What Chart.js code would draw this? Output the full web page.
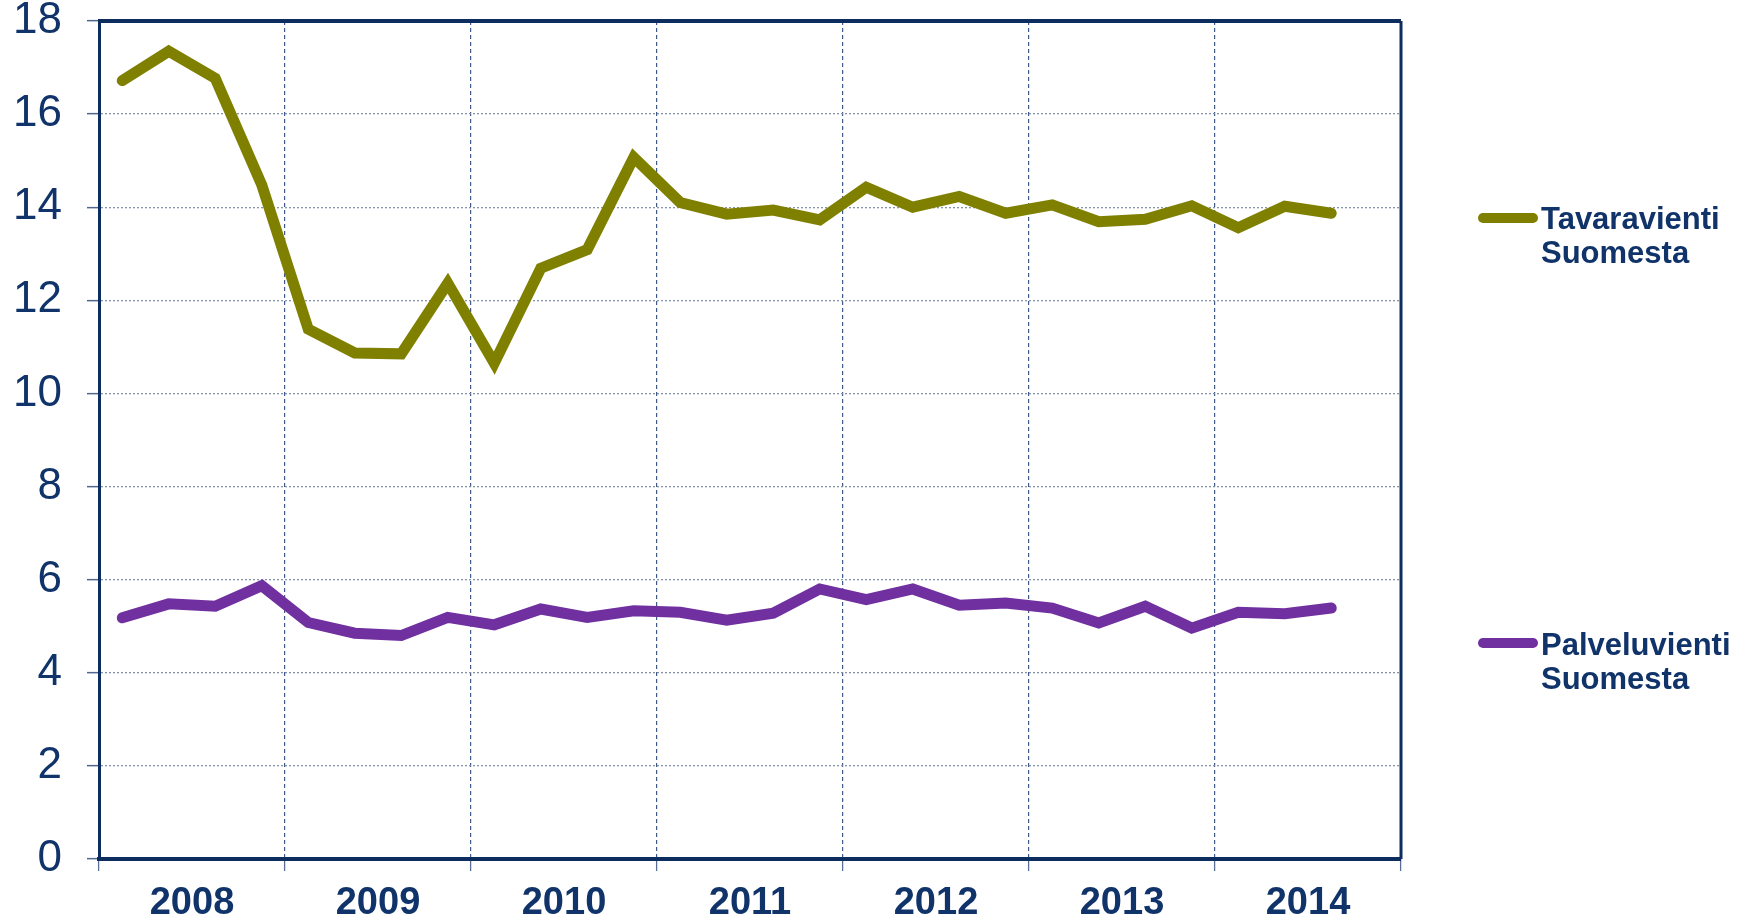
<!DOCTYPE html>
<html>
<head>
<meta charset="utf-8">
<script src="https://cdn.jsdelivr.net/npm/chart.js@4.4.1/dist/chart.umd.min.js"></script>
<style>
    html, body { margin: 0; padding: 0; background: #fff; }
    #wrap { width: 1750px; height: 920px; }
</style>
</head>
<body>
<div id="wrap"><canvas id="chart1"></canvas></div>
<script>
var years = ['2008', '2009', '2010', '2011', '2012', '2013', '2014'];
var quarters = [];
for (var y = 0; y < years.length; y++) {
    for (var q = 1; q <= 4; q++) {
        quarters.push(years[y] + ' Q' + q);
    }
}

// kvartaalit 2008 Q1 - 2014 Q3, 2014 Q4 puuttuu
var tavaravienti = [16.72, 17.35, 16.77, 14.48, 11.38, 10.87, 10.85, 12.37, 10.65, 12.69, 13.09, 15.07,
    14.10, 13.85, 13.94, 13.73, 14.43, 14.00, 14.23, 13.87, 14.05, 13.69, 13.74, 14.03, 13.56, 14.02, 13.87, null];
var palveluvienti = [5.18, 5.48, 5.43, 5.87, 5.08, 4.85, 4.80, 5.19, 5.03, 5.37, 5.19, 5.33,
    5.30, 5.13, 5.28, 5.80, 5.57, 5.80, 5.45, 5.50, 5.39, 5.07, 5.43, 4.96, 5.30, 5.27, 5.39, null];

var yTicks = [0, 2, 4, 6, 8, 10, 12, 14, 16, 18];

var navy = '#0c2d5e';
var textNavy = '#10336a';

// kehys ylä- ja oikealle reunalle
var framePlugin = {
    id: 'frame',
    afterDatasetsDraw: function (chart) {
        var a = chart.chartArea;
        var c = chart.ctx;
        c.save();
        c.strokeStyle = navy;
        c.lineWidth = 4;
        c.beginPath();
        c.moveTo(a.left - 1, a.top);
        c.lineTo(a.right, a.top);
        c.stroke();
        c.lineWidth = 3;
        c.beginPath();
        c.moveTo(a.right, a.top);
        c.lineTo(a.right, a.bottom);
        c.stroke();
        c.restore();
    }
};

// selitteet oikealle, kahdelle riville
var legendPlugin = {
    id: 'sideLegend',
    afterDraw: function (chart) {
        var c = chart.ctx;
        var items = [
            {ds: 0, lineY: 218, lines: ['Tavaravienti', 'Suomesta'], base: 229},
            {ds: 1, lineY: 643, lines: ['Palveluvienti', 'Suomesta'], base: 655}
        ];
        c.save();
        items.forEach(function (it) {
            c.strokeStyle = chart.data.datasets[it.ds].borderColor;
            c.lineWidth = 10;
            c.lineCap = 'round';
            c.beginPath();
            c.moveTo(1483, it.lineY);
            c.lineTo(1533, it.lineY);
            c.stroke();
            c.fillStyle = textNavy;
            c.font = 'bold 31px "Liberation Sans", Arial, sans-serif';
            c.textBaseline = 'alphabetic';
            c.textAlign = 'left';
            for (var i = 0; i < it.lines.length; i++) {
                c.fillText(it.lines[i], 1541, it.base + i * 34);
            }
        });
        c.restore();
    }
};

var ctx = document.getElementById('chart1');

var myChart = new Chart(ctx, {
    type: 'line',
    data: {
        labels: quarters,
        datasets: [{
            label: 'Tavaravienti Suomesta',
            data: tavaravienti,
            borderColor: '#7f8000',
            borderWidth: 11,
            borderCapStyle: 'round',
            borderJoinStyle: 'miter',
            pointRadius: 0,
            fill: false,
            tension: 0
        }, {
            label: 'Palveluvienti Suomesta',
            data: palveluvienti,
            borderColor: '#7030a0',
            borderWidth: 11,
            borderCapStyle: 'round',
            borderJoinStyle: 'miter',
            pointRadius: 0,
            fill: false,
            tension: 0
        }]
    },
    options: {
        responsive: true,
        maintainAspectRatio: false,
        animation: false,
        layout: { padding: { left: 0, right: 349, top: 0, bottom: 0 } },
        plugins: {
            legend: { display: false },
            tooltip: { enabled: false }
        },
        scales: {
            x: {
                type: 'category',
                display: false,
                offset: true
            },
            year: {
                type: 'category',
                labels: years,
                position: 'bottom',
                offset: true,
                grid: {
                    offset: true,
                    color: '#3f5a88',
                    lineWidth: 1.2,
                    drawTicks: true,
                    tickLength: 12,
                    tickColor: '#5a6f96',
                    tickWidth: 1.3,
                    tickBorderDash: []
                },
                border: { display: true, color: navy, width: 4, dash: [4, 3] },
                ticks: {
                    color: textNavy,
                    padding: 10,
                    font: { family: '"Liberation Sans", Arial, sans-serif', size: 38, weight: 'bold' }
                },
                afterFit: function (s) { s.height = 61; }
            },
            y: {
                min: 0,
                max: 18,
                afterBuildTicks: function (s) {
                    s.ticks = yTicks.map(function (v) { return {value: v}; });
                },
                grid: {
                    color: '#8593ab',
                    lineWidth: 1.3,
                    drawTicks: true,
                    tickLength: 12,
                    tickColor: '#50688f',
                    tickWidth: 1.5,
                    tickBorderDash: []
                },
                border: { display: true, color: navy, width: 3, dash: [2, 2] },
                ticks: {
                    color: textNavy,
                    padding: 25,
                    font: { family: '"Liberation Sans", Arial, sans-serif', size: 44 }
                },
                afterFit: function (s) {
                    s.width = 99;
                    s.paddingTop = 21;
                    s.paddingBottom = 0;
                }
            }
        }
    },
    plugins: [framePlugin, legendPlugin]
});
</script>
</body>
</html>
